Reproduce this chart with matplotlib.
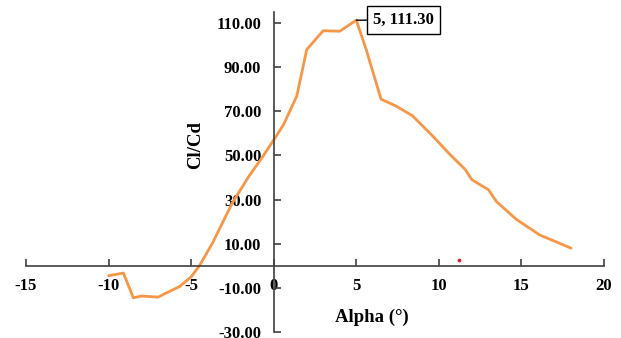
import matplotlib
matplotlib.use("Agg")
import matplotlib.pyplot as plt

# values
alpha = [-10, -9.1, -8.5, -8, -7, -6.5, -5.7, -5, -4.5, -3.7, -2.5, -1.5, -0.8, 0,
         0.6, 1.4, 2, 2.7, 3, 4, 5, 5.6, 6.5, 7.4, 8.4, 9.6, 10.6, 11.6, 12, 13,
         13.5, 14.7, 16.1, 18]
cl_cd = [-4.5, -3.3, -14.5, -13.7, -14.2, -12.3, -9.4, -5, 0, 10.4, 28.6, 40.6, 48, 57,
         64, 77, 98, 104, 106.5, 106.3, 111.3, 98, 75.5, 72.4, 68, 59, 51, 43.6, 39, 34.5,
         29, 21, 14, 8]
peak = (5, 111.30)
stray = (11.25, 2.7)

xticks = [-15, -10, -5, 0, 5, 10, 15, 20]
yticks = [-30, -10, 10, 30, 50, 70, 90, 110]

plt.rcParams['font.family'] = ['Liberation Serif', 'DejaVu Serif']
plt.rcParams['font.weight'] = 'bold'

fig = plt.figure(figsize=(6.21, 3.38), dpi=100)
ax = fig.add_axes([26 / 621, 1 - 332 / 338, 578 / 621, 320 / 338])

ax.plot(alpha, cl_cd, color='#F79646', lw=2, solid_capstyle='round',
        solid_joinstyle='round')
ax.scatter([stray[0]], [stray[1]], s=3, color='#e8202a', zorder=3)

ax.set_xlim(-15, 20)
ax.set_ylim(-30, 115)

for s in ['top', 'right']:
    ax.spines[s].set_visible(False)
ax.spines['left'].set_position(('data', 0))
ax.spines['bottom'].set_position(('data', 0))
ax.spines['left'].set_bounds(-30, 115)
for s in ['left', 'bottom']:
    ax.spines[s].set_color('#404040')
    ax.spines[s].set_linewidth(1.2)

ax.set_xticks(xticks)
ax.set_xticklabels([str(v) for v in xticks])
ax.set_yticks(yticks)
ax.set_yticklabels([f"{v:.2f}" for v in yticks])
ax.tick_params(axis='both', direction='in', length=5, width=1.2, color='#404040',
               labelsize=12, pad=9)

ax.annotate(f"{peak[0]}, {peak[1]:.2f}", xy=peak, xytext=(12, 0),
            textcoords='offset points', ha='left', va='center',
            fontsize=12, fontweight='bold',
            bbox=dict(boxstyle='square,pad=0.35', fc='white', ec='black', lw=1),
            arrowprops=dict(arrowstyle='-', color='black', lw=1, shrinkA=0, shrinkB=0))

fig.text(372 / 621, 1 - 317 / 338, "Alpha (°)", ha='center', va='center',
         fontsize=13.5, fontweight='bold')
fig.text(196 / 621, 1 - 145 / 338, "Cl/Cd", ha='center', va='center',
         rotation=90, fontsize=13.5, fontweight='bold')

fig.savefig("out.png", dpi=100)
